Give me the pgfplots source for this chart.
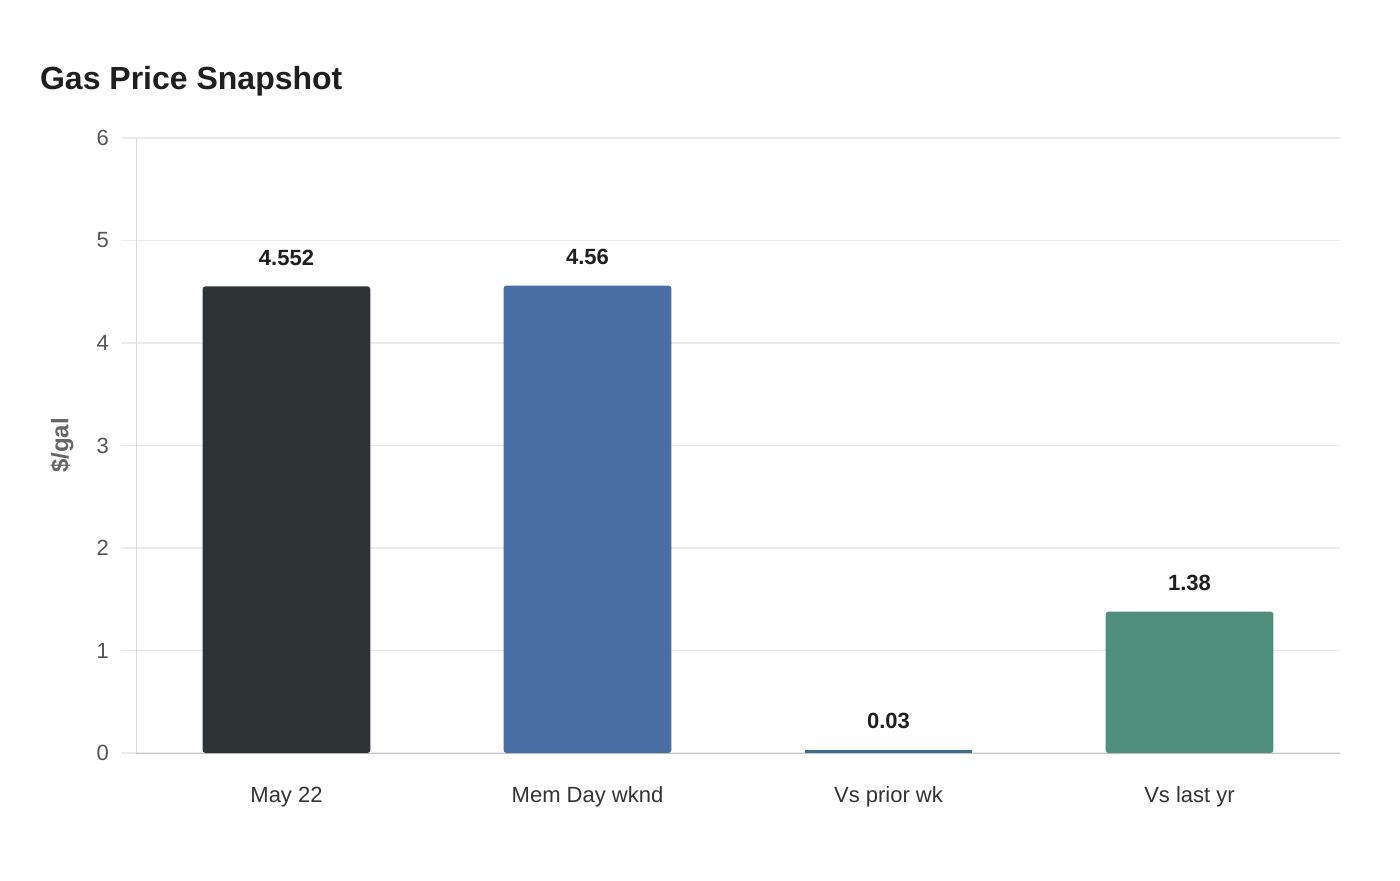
\documentclass[border=0pt]{standalone}
\usepackage{fontspec}
\setmainfont{Liberation Sans}
\usepackage{pgfplots}
\pgfplotsset{compat=1.18}
\definecolor{cDark}{HTML}{2E3436}
\definecolor{cBlue}{HTML}{4A6FA5}
\definecolor{cSteel}{HTML}{3C6E8F}
\definecolor{cGreen}{HTML}{4E8E7A}
\definecolor{gridc}{HTML}{EBEBEB}
\definecolor{tickc}{HTML}{555555}

\begin{document}
\begin{tikzpicture}
\begin{axis}[
    scale only axis,
    width=602pt, height=307.5pt,
    ybar, bar width=0.558,
    xmin=-0.5, xmax=3.5,
    ymin=0, ymax=6,
    xtick={0,1,2,3},
    xticklabels={May 22, Mem Day wknd, Vs prior wk, Vs last yr},
    ytick={0,1,2,3,4,5,6},
    axis lines*=left,
    axis line style={draw=black!20},
    x axis line style={-, draw=black!22},
    y axis line style={-, draw=black!14},
    ymajorgrids,
    grid style={gridc, line width=0.6pt},
    tick align=outside,
    major tick length=7.5pt,
    xtick style={draw=none},
    ytick style={draw=gridc, line width=0.6pt},
    /pgf/number format/assume math mode=true,
    ticklabel style={font=\fontsize{11}{13}\selectfont, text=tickc},
    yticklabel style={xshift=-2.5pt},
    xticklabel style={text=black!80, text height=1.6ex, text depth=0.5ex, yshift=-5.5pt},
    ylabel={\$/gal},
    y label style={at={(axis description cs:-0.0615,0.5)}, anchor=center,
        font=\bfseries\fontsize{12}{14}\selectfont, text=black!60},
    nodes near coords={\pgfmathprintnumber[fixed,precision=3]{\pgfplotspointmeta}},
    every node near coord/.append style={font=\bfseries\fontsize{11}{13}\selectfont,
        text=black!88, yshift=7pt},
    clip=false,
]
\addplot[bar shift=0pt, fill=cDark, draw=none, rounded corners=1.5pt] coordinates {(0,4.552)};
\addplot[bar shift=0pt, fill=cBlue, draw=none, rounded corners=1.5pt] coordinates {(1,4.56)};
\addplot[bar shift=0pt, fill=cSteel, draw=none] coordinates {(2,0.03)};
\addplot[bar shift=0pt, fill=cGreen, draw=none, rounded corners=1.5pt] coordinates {(3,1.38)};
\coordinate (o) at (rel axis cs:0,0);
\end{axis}
\node[anchor=base west, font=\bfseries\fontsize{16}{19}\selectfont, text=black!88]
    at ([shift={(-51.5pt,331.5pt)}]o) {Gas Price Snapshot};
\pgfresetboundingbox
\path[use as bounding box] ([shift={(-68pt,-63.5pt)}]o) rectangle ++(700pt,440pt);
\end{tikzpicture}
\end{document}
